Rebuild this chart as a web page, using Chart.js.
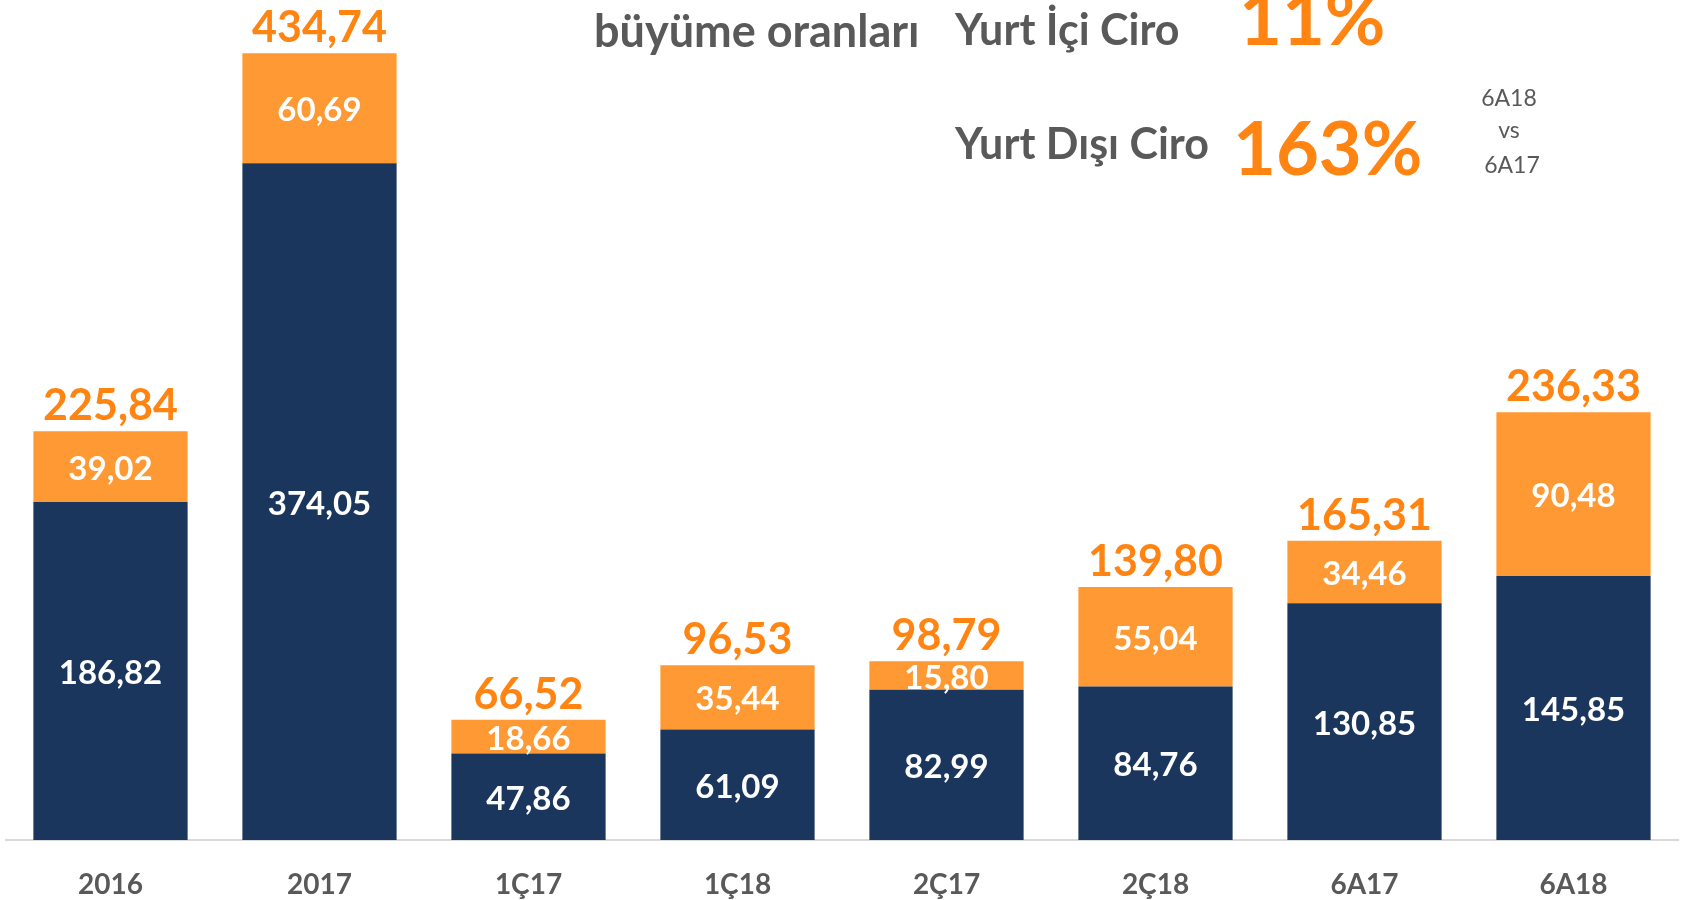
<!DOCTYPE html>
<html>
<head>
<meta charset="utf-8">
<script src="https://cdn.jsdelivr.net/npm/chart.js@4.4.1/dist/chart.umd.min.js"></script>
<style>
html,body{margin:0;padding:0;background:#ffffff;}
#wrap{width:1683px;height:900px;position:relative;}
</style>
</head>
<body>
<div id="wrap"><canvas id="c" width="1683" height="900"></canvas></div>
<script>
const categories = ['2016', '2017', '1Ç17', '1Ç18', '2Ç17', '2Ç18', '6A17', '6A18'];
const yurtIci = [186.82, 374.05, 47.86, 61.09, 82.99, 84.76, 130.85, 145.85];
const yurtDisi = [39.02, 60.69, 18.66, 35.44, 15.80, 55.04, 34.46, 90.48];
const totals = [225.84, 434.74, 66.52, 96.53, 98.79, 139.80, 165.31, 236.33];
const growthTitle = 'büyüme oranları';
const growthLabels = ['Yurt İçi Ciro', 'Yurt Dışı Ciro'];
const growthValues = ['11%', '163%'];
const periodNote = ['6A18', 'vs', '6A17'];

const NAVY = '#1B365D';
const ORANGE = '#FF9933';
const ORANGE_TXT = '#FF8412';
const GREY = '#595959';
const FONT = 'Lato, "Open Sans", sans-serif';

function fmt(v) { return v.toFixed(2).replace('.', ','); }

const labelPlugin = {
  id: 'labels',
  afterDatasetsDraw(chart) {
    const ctx = chart.ctx;
    ctx.save();
    ctx.textAlign = 'center';
    ctx.textBaseline = 'alphabetic';
    ctx.fillStyle = '#ffffff';
    ctx.font = 'bold 33px ' + FONT;
    chart.data.datasets.forEach((ds, di) => {
      const meta = chart.getDatasetMeta(di);
      meta.data.forEach((bar, i) => {
        const cy = (bar.y + bar.base) / 2;
        ctx.fillText(fmt(ds.data[i]), bar.x, cy + 13);
      });
    });
    const topMeta = chart.getDatasetMeta(chart.data.datasets.length - 1);
    ctx.fillStyle = ORANGE_TXT;
    ctx.font = 'bold 43px ' + FONT;
    topMeta.data.forEach((bar, i) => {
      ctx.fillText(fmt(totals[i]), bar.x, bar.y - 11);
    });
    ctx.restore();
  }
};

const notePlugin = {
  id: 'notes',
  afterDraw(chart) {
    const ctx = chart.ctx;
    ctx.save();
    ctx.textBaseline = 'alphabetic';
    ctx.textAlign = 'left';
    ctx.fillStyle = GREY;
    ctx.font = 'bold 45px ' + FONT;
    ctx.fillText(growthTitle, 594, 47);
    ctx.font = 'bold 43px ' + FONT;
    ctx.fillText(growthLabels[0], 955, 45);
    ctx.fillText(growthLabels[1], 955, 159);
    ctx.fillStyle = ORANGE_TXT;
    ctx.font = 'bold 74px ' + FONT;
    ctx.fillText(growthValues[0], 1239, 45);
    ctx.fillText(growthValues[1], 1233, 175);
    ctx.fillStyle = GREY;
    ctx.textAlign = 'center';
    ctx.font = '23px ' + FONT;
    ctx.fillText(periodNote[0], 1509, 106);
    ctx.fillText(periodNote[1], 1509, 138);
    ctx.fillText(periodNote[2], 1512, 173);
    ctx.restore();
  }
};

new Chart(document.getElementById('c'), {
  type: 'bar',
  data: {
    labels: categories,
    datasets: [
      { label: 'Yurt İçi', data: yurtIci, backgroundColor: NAVY, borderWidth: 0,
        categoryPercentage: 1.0, barPercentage: 0.738 },
      { label: 'Yurt Dışı', data: yurtDisi, backgroundColor: ORANGE, borderWidth: 0,
        categoryPercentage: 1.0, barPercentage: 0.738 }
    ]
  },
  options: {
    responsive: false,
    animation: false,
    layout: { padding: { left: 6, right: 5, top: 0, bottom: 0 } },
    plugins: { legend: { display: false }, tooltip: { enabled: false } },
    scales: {
      x: {
        stacked: true,
        grid: { display: false, drawTicks: false },
        border: { display: true, color: '#D9D9D9', width: 2 },
        ticks: { color: GREY, font: { family: FONT, size: 28, weight: 'bold' }, padding: 28, maxRotation: 0 },
        afterFit(scale) { scale.height = 60; }
      },
      y: {
        stacked: true,
        display: false,
        min: 0,
        max: 464.2
      }
    }
  },
  plugins: [labelPlugin, notePlugin]
});
</script>
</body>
</html>
